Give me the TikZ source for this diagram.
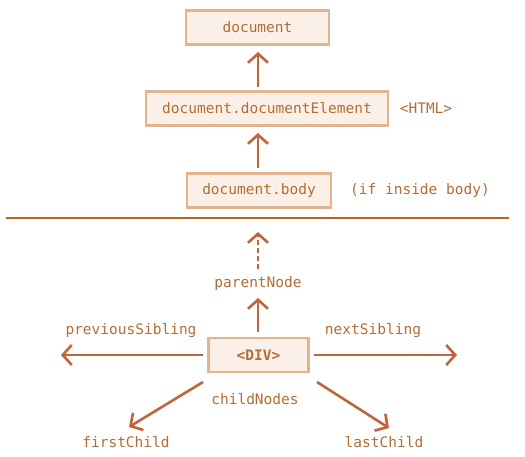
\documentclass[tikz,border=0pt]{standalone}
\usepackage{fontspec}
\setmonofont{DejaVu Sans Mono}
\usetikzlibrary{arrows.meta}
\definecolor{boxfill}{HTML}{FBF0E8}
\definecolor{boxdraw}{HTML}{E2B48E}
\definecolor{arr}{HTML}{C0643A}
\definecolor{txt}{HTML}{B06E36}
\definecolor{rule}{HTML}{B8681E}
\tikzset{
  box/.style={draw=boxdraw, fill=boxfill, line width=2.2pt, minimum height=34pt, inner xsep=0pt, text=txt, font=\ttfamily\fontsize{14.5}{16}\selectfont},
  lbl/.style={text=txt, font=\ttfamily\fontsize{14.5}{16}\selectfont, inner sep=0pt},
  arrow/.style={draw=arr, line width=2.6pt, -{Straight Barb[length=9pt, width=20pt, line width=2.6pt]}},
}
\begin{document}
\begin{tikzpicture}[x=1pt, y=-1pt]
\useasboundingbox (0,0) rectangle (525,456);
\node[box, minimum width=143pt] (doc) at (257.5,27.5) {document};
\node[box, minimum width=242pt] (de) at (267,108.5) {document.documentElement};
\node[lbl] (html) at (426,108.5) {<HTML>};
\node[box, minimum width=144pt] (body) at (259,190.5) {document.body};
\node[lbl] (ifin) at (420,190.5) {(if inside body)};
\coordinate (rl) at (6,218);
\coordinate (rr) at (509,218);
\draw[rule, line width=2.6pt] (rl) -- (rr);
\node[box, minimum width=100pt, font=\ttfamily\bfseries\fontsize{14.5}{16}\selectfont] (div) at (258.5,355) {<DIV>};
\node[lbl] (pn) at (258,283) {parentNode};
\node[lbl] (ps) at (131,331) {previousSibling};
\node[lbl] (ns) at (373,331) {nextSibling};
\node[lbl] (cn) at (255,399) {childNodes};
\node[lbl] (fc) at (126,442) {firstChild};
\node[lbl] (lc) at (384,442) {lastChild};
\coordinate (a1s) at (258,87);
\coordinate (a1e) at (258,52);
\draw[arrow] (a1s) -- (a1e);
\coordinate (a2s) at (258,168);
\coordinate (a2e) at (258,133);
\draw[arrow] (a2s) -- (a2e);
\coordinate (a3s) at (258,269);
\coordinate (a3e) at (258,232);
\draw[arrow, dash pattern=on 5pt off 3pt] (a3s) -- (a3e);
\coordinate (a4s) at (258,332);
\coordinate (a4e) at (258,298);
\draw[arrow] (a4s) -- (a4e);
\coordinate (a5e) at (61,355);
\draw[arrow] ([xshift=-4pt]div.west) -- (a5e);
\coordinate (a6e) at (457,355);
\draw[arrow] ([xshift=4pt]div.east) -- (a6e);
\coordinate (a7s) at (203,382);
\coordinate (a7e) at (129,427);
\draw[arrow] (a7s) -- (a7e);
\coordinate (a8s) at (317,382);
\coordinate (a8e) at (389,428);
\draw[arrow] (a8s) -- (a8e);
\end{tikzpicture}
\end{document}
